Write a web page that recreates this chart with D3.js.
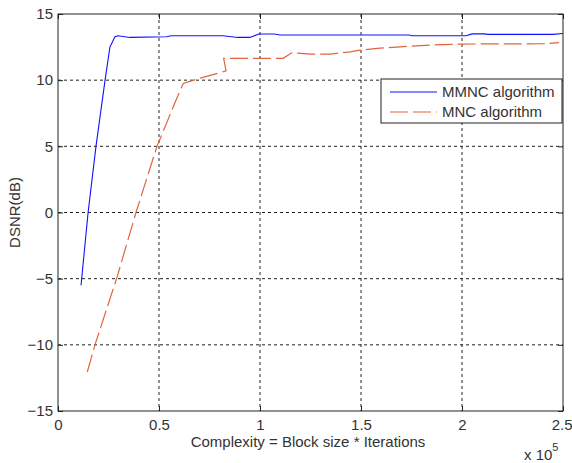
<!DOCTYPE html>
<html>
<head>
<meta charset="utf-8">
<script src="https://cdn.jsdelivr.net/npm/d3@7"></script>
<style>
  body { margin: 0; background: #fff; }
  text { font-family: "Liberation Sans", Arial, sans-serif; fill: #333; }
</style>
</head>
<body>
<svg id="chart" width="572" height="463"></svg>
<script>
// Values (x in units of 10^5)
const mmncX = [0.114, 0.149, 0.188, 0.233, 0.257, 0.282, 0.297, 0.356, 0.538, 0.56, 0.817, 0.89, 0.95, 0.995, 1.07, 1.1, 1.74, 1.75, 2.02, 2.05, 2.11, 2.13, 2.45, 2.5];
const mmncY = [-5.5, 0, 5, 10, 12.5, 13.28, 13.36, 13.23, 13.28, 13.36, 13.36, 13.23, 13.23, 13.49, 13.49, 13.41, 13.41, 13.36, 13.36, 13.5, 13.5, 13.46, 13.46, 13.53];

const mncX = [0.145, 0.183, 0.29, 0.386, 0.49, 0.584, 0.62, 0.687, 0.81, 0.832, 0.82, 1.115, 1.157, 1.248, 1.347, 1.446, 1.495, 1.58, 1.693, 1.84, 1.99, 2.4, 2.48];
const mncY = [-12.05, -10, -5, 0, 5, 8.48, 9.75, 10.08, 10.6, 10.7, 11.65, 11.65, 12.07, 11.97, 11.97, 12.14, 12.27, 12.4, 12.52, 12.65, 12.73, 12.75, 12.83];

const xTicks = [0, 0.5, 1, 1.5, 2, 2.5];
const yTicks = [-15, -10, -5, 0, 5, 10, 15];
const seriesNames = ["MMNC algorithm", "MNC algorithm"];

const BLUE = "#1010ff", ORANGE = "#e0643c";

function drawChart() {
    const svg = d3.select("#chart"),
          margin = {top: 14, right: 9, bottom: 52, left: 58},
          width = +svg.attr("width"),
          height = +svg.attr("height");

    const x = d3.scaleLinear().domain([0, 2.5]).range([margin.left, width - margin.right]);
    const y = d3.scaleLinear().domain([-15, 15]).range([height - margin.bottom, margin.top]);

    const left = x(0), right = x(2.5), top = y(15), bottom = y(-15);

    // grid
    svg.append("g").selectAll("line").data(xTicks.slice(1, -1)).join("line")
        .attr("x1", d => x(d)).attr("x2", d => x(d))
        .attr("y1", top).attr("y2", bottom)
        .attr("stroke", "#222").attr("stroke-dasharray", "3,3");
    svg.append("g").selectAll("line").data(yTicks.slice(1, -1)).join("line")
        .attr("x1", left).attr("x2", right)
        .attr("y1", d => y(d)).attr("y2", d => y(d))
        .attr("stroke", "#222").attr("stroke-dasharray", "3,3");

    // axes (MATLAB style: ticks point inward)
    const xAxis = svg.append("g")
        .attr("transform", `translate(0,${bottom})`)
        .call(d3.axisBottom(x).tickValues(xTicks).tickSizeInner(-5).tickSizeOuter(0).tickPadding(8).tickFormat(d3.format("~g")));
    svg.append("g")
        .attr("transform", `translate(${left},0)`)
        .call(d3.axisLeft(y).tickValues(yTicks).tickSizeInner(-5).tickSizeOuter(0).tickPadding(5).tickFormat(d3.format("~g")));
    svg.append("g")
        .attr("transform", `translate(0,${top})`)
        .call(d3.axisTop(x).tickValues(xTicks).tickSizeInner(-5).tickSizeOuter(0).tickFormat(""));
    svg.append("g")
        .attr("transform", `translate(${right},0)`)
        .call(d3.axisRight(y).tickValues(yTicks).tickSizeInner(-5).tickSizeOuter(0).tickFormat(""));

    svg.selectAll(".domain").remove();
    svg.selectAll(".tick line").attr("stroke", "#222");
    svg.selectAll(".tick text").attr("font-size", "15px").attr("fill", "#333")
        .attr("font-family", "Liberation Sans, Arial, sans-serif");
    // keep the last x label inside the page
    xAxis.selectAll(".tick text").filter(d => d === 2.5)
        .attr("text-anchor", "end").attr("dx", "9");

    svg.append("rect")
        .attr("x", left).attr("y", top)
        .attr("width", right - left).attr("height", bottom - top)
        .attr("fill", "none").attr("stroke", "#222");

    // lines
    const line = d3.line().x(d => x(d[0])).y(d => y(d[1]));
    const mmnc = mmncX.map((v, i) => [v, mmncY[i]]);
    const mnc = mncX.map((v, i) => [v, mncY[i]]);

    svg.append("path").datum(mnc)
        .attr("fill", "none").attr("stroke", ORANGE).attr("stroke-width", 1.2)
        .attr("stroke-dasharray", "18,5").attr("d", line);
    svg.append("path").datum(mmnc)
        .attr("fill", "none").attr("stroke", BLUE).attr("stroke-width", 1.1)
        .attr("d", line);

    // legend
    const lg = svg.append("g").attr("transform", "translate(381,79)");
    lg.append("rect").attr("width", 181).attr("height", 44)
        .attr("fill", "#fff").attr("stroke", "#222");
    const entries = [
        {name: seriesNames[0], color: BLUE, dash: null},
        {name: seriesNames[1], color: ORANGE, dash: "18,5"}
    ];
    entries.forEach((e, i) => {
        const yy = 13 + i * 20;
        lg.append("line").attr("x1", 9).attr("x2", 56).attr("y1", yy).attr("y2", yy)
            .attr("stroke", e.color).attr("stroke-width", 1.2)
            .attr("stroke-dasharray", e.dash);
        lg.append("text").attr("x", 61).attr("y", yy + 5)
            .attr("font-size", "15px").attr("fill", "#333").text(e.name);
    });

    // axis labels
    svg.append("text")
        .attr("x", 308).attr("y", 447)
        .attr("text-anchor", "middle").attr("font-size", "15px").attr("fill", "#333")
        .text("Complexity = Block size * Iterations");
    svg.append("text")
        .attr("transform", `translate(20,${(top + bottom) / 2}) rotate(-90)`)
        .attr("text-anchor", "middle").attr("font-size", "15px").attr("fill", "#333")
        .text("DSNR(dB)");
    const mult = svg.append("text").attr("x", 524).attr("y", 460)
        .attr("font-size", "15px").attr("fill", "#333");
    mult.append("tspan").text("x 10");
    mult.append("tspan").attr("dy", -9).attr("font-size", "11px").text("5");
}

drawChart();
</script>
</body>
</html>
